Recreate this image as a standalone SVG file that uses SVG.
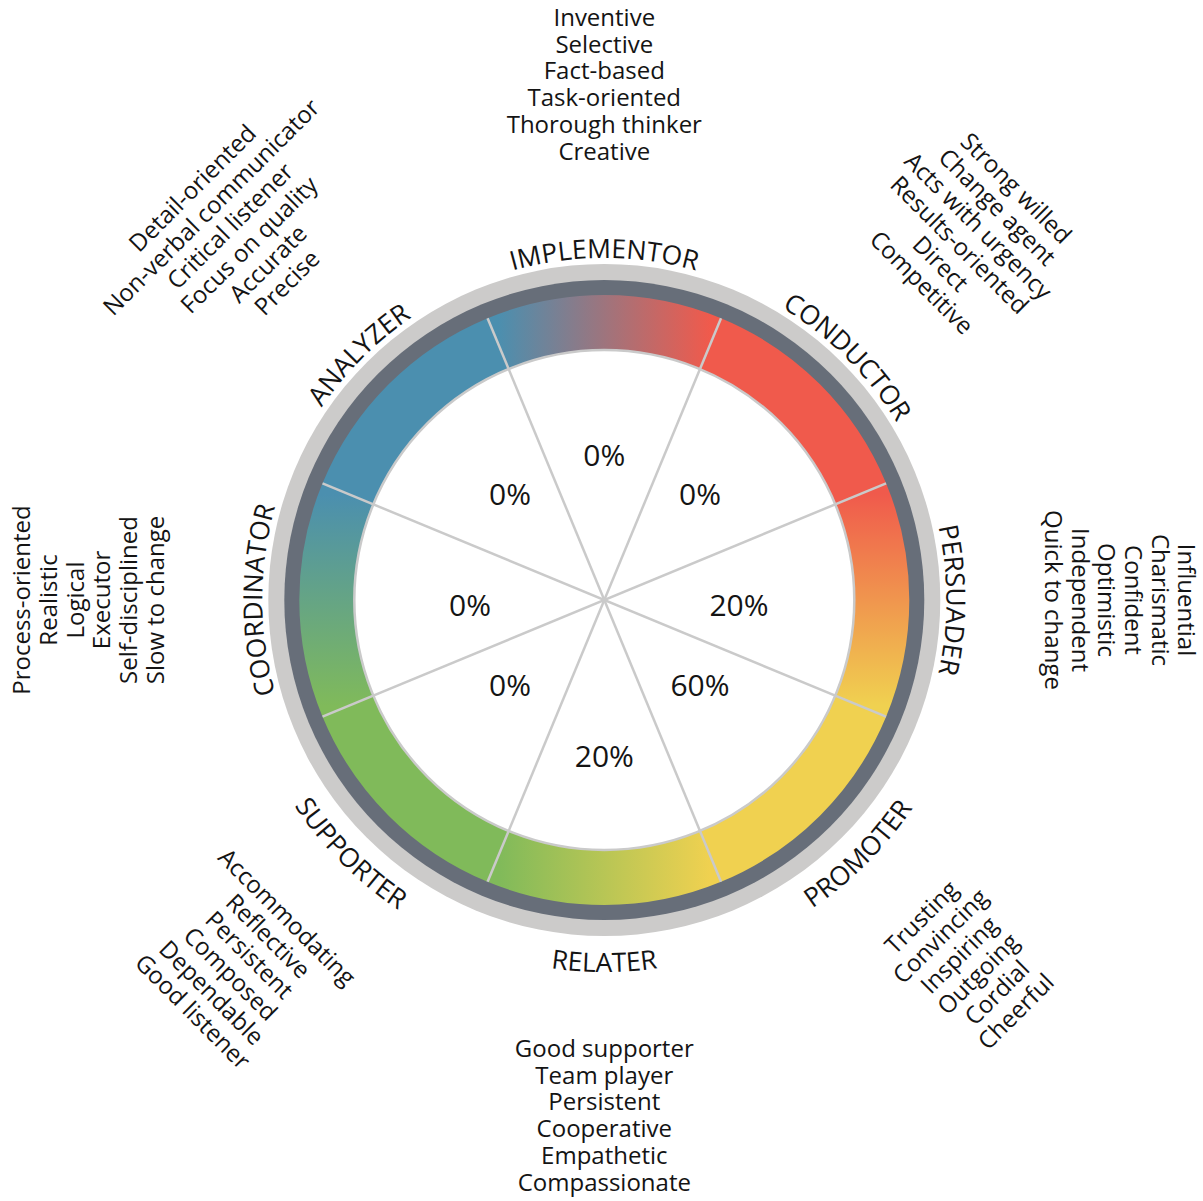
<svg xmlns="http://www.w3.org/2000/svg" xmlns:xlink="http://www.w3.org/1999/xlink" width="1203" height="1201" viewBox="0 0 1203 1201">
<style>
text{font-family:"Open Sans","Liberation Sans",sans-serif;fill:#141414;}
.lbl{font-size:26.5px;}
.tr{font-size:24px;text-anchor:middle;}
.pc{font-size:30px;text-anchor:middle;}
.div{stroke:#CACACA;stroke-width:2.5;fill:none;}
</style>
<defs>
<linearGradient id="gImp" gradientUnits="userSpaceOnUse" x1="498" y1="344" x2="710" y2="344"><stop offset="0" stop-color="#4B8FAF"/><stop offset="1" stop-color="#F05A4C"/></linearGradient>
<linearGradient id="gPer" gradientUnits="userSpaceOnUse" x1="498" y1="344" x2="710" y2="344"><stop offset="0" stop-color="#F05A4C"/><stop offset="1" stop-color="#F0D150"/></linearGradient>
<linearGradient id="gRel" gradientUnits="userSpaceOnUse" x1="498" y1="344" x2="710" y2="344"><stop offset="0" stop-color="#F0D150"/><stop offset="1" stop-color="#80BA5A"/></linearGradient>
<linearGradient id="gCoo" gradientUnits="userSpaceOnUse" x1="498" y1="344" x2="710" y2="344"><stop offset="0" stop-color="#80BA5A"/><stop offset="1" stop-color="#4B8FAF"/></linearGradient>
<path id="wedge" d="M487.58 318.22 A305 305 0 0 1 721.02 318.22 L699.97 369.03 A250 250 0 0 0 508.63 369.03 Z"/>
<path id="arcTop" d="M308.1 429 A342 342 0 0 1 900.5 429" fill="none"/>
<path id="arcBot" d="M282.1 786 A372 372 0 0 0 926.5 786" fill="none"/>
</defs>
<rect width="1203" height="1201" fill="#FFFFFF"/>
<circle cx="604.3" cy="600" r="336" fill="#CCCBCA"/>
<circle cx="604.3" cy="600" r="320" fill="#676E79"/>
<circle cx="604.3" cy="600" r="250" fill="#FFFFFF"/>

<g id="implementor">
<use xlink:href="#wedge" href="#wedge" fill="url(#gImp)"/>
<text class="lbl"><textPath xlink:href="#arcTop" href="#arcTop" startOffset="50%" text-anchor="middle">IMPLEMENTOR</textPath></text>
<text class="pc" x="604.3" y="466">0%</text>
<g class="traits">
<text class="tr" x="604.3" y="26">Inventive</text>
<text class="tr" x="604.3" y="52.7">Selective</text>
<text class="tr" x="604.3" y="79.4">Fact-based</text>
<text class="tr" x="604.3" y="106.1">Task-oriented</text>
<text class="tr" x="604.3" y="132.8">Thorough thinker</text>
<text class="tr" x="604.3" y="159.5">Creative</text>
</g>
</g>

<g id="conductor">
<use xlink:href="#wedge" href="#wedge" fill="#F05A4C" transform="rotate(45 604.3 600)"/>
<text class="lbl" transform="rotate(45 604.3 600)"><textPath xlink:href="#arcTop" href="#arcTop" startOffset="50%" text-anchor="middle">CONDUCTOR</textPath></text>
<text class="pc" x="700" y="505">0%</text>
<g class="traits" transform="rotate(45 604.3 600)">
<text class="tr" x="604.3" y="26">Strong willed</text>
<text class="tr" x="604.3" y="52.7">Change agent</text>
<text class="tr" x="604.3" y="79.4">Acts with urgency</text>
<text class="tr" x="604.3" y="106.1">Results-oriented</text>
<text class="tr" x="604.3" y="132.8">Direct</text>
<text class="tr" x="604.3" y="159.5">Competitive</text>
</g>
</g>

<g id="persuader">
<use xlink:href="#wedge" href="#wedge" fill="url(#gPer)" transform="rotate(90 604.3 600)"/>
<text class="lbl" transform="rotate(90 604.3 600)"><textPath xlink:href="#arcTop" href="#arcTop" startOffset="50%" text-anchor="middle">PERSUADER</textPath></text>
<text class="pc" x="739" y="616">20%</text>
<g class="traits" transform="rotate(90 604.3 600)">
<text class="tr" x="604.3" y="26">Influential</text>
<text class="tr" x="604.3" y="52.7">Charismatic</text>
<text class="tr" x="604.3" y="79.4">Confident</text>
<text class="tr" x="604.3" y="106.1">Optimistic</text>
<text class="tr" x="604.3" y="132.8">Independent</text>
<text class="tr" x="604.3" y="159.5">Quick to change</text>
</g>
</g>

<g id="promoter">
<use xlink:href="#wedge" href="#wedge" fill="#F0D150" transform="rotate(135 604.3 600)"/>
<text class="lbl" transform="rotate(-45 604.3 600)"><textPath xlink:href="#arcBot" href="#arcBot" startOffset="50%" text-anchor="middle">PROMOTER</textPath></text>
<text class="pc" x="700" y="696">60%</text>
<g class="traits" transform="rotate(-45 604.3 600)">
<text class="tr" x="604.3" y="1057">Trusting</text>
<text class="tr" x="604.3" y="1083.7">Convincing</text>
<text class="tr" x="604.3" y="1110.4">Inspiring</text>
<text class="tr" x="604.3" y="1137.1">Outgoing</text>
<text class="tr" x="604.3" y="1163.8">Cordial</text>
<text class="tr" x="604.3" y="1190.5">Cheerful</text>
</g>
</g>

<g id="relater">
<use xlink:href="#wedge" href="#wedge" fill="url(#gRel)" transform="rotate(180 604.3 600)"/>
<text class="lbl"><textPath xlink:href="#arcBot" href="#arcBot" startOffset="50%" text-anchor="middle">RELATER</textPath></text>
<text class="pc" x="604.3" y="767">20%</text>
<g class="traits">
<text class="tr" x="604.3" y="1057">Good supporter</text>
<text class="tr" x="604.3" y="1083.7">Team player</text>
<text class="tr" x="604.3" y="1110.4">Persistent</text>
<text class="tr" x="604.3" y="1137.1">Cooperative</text>
<text class="tr" x="604.3" y="1163.8">Empathetic</text>
<text class="tr" x="604.3" y="1190.5">Compassionate</text>
</g>
</g>

<g id="supporter">
<use xlink:href="#wedge" href="#wedge" fill="#80BA5A" transform="rotate(225 604.3 600)"/>
<text class="lbl" transform="rotate(45 604.3 600)"><textPath xlink:href="#arcBot" href="#arcBot" startOffset="50%" text-anchor="middle">SUPPORTER</textPath></text>
<text class="pc" x="510" y="696">0%</text>
<g class="traits" transform="rotate(45 604.3 600)">
<text class="tr" x="604.3" y="1057">Accommodating</text>
<text class="tr" x="604.3" y="1083.7">Reflective</text>
<text class="tr" x="604.3" y="1110.4">Persistent</text>
<text class="tr" x="604.3" y="1137.1">Composed</text>
<text class="tr" x="604.3" y="1163.8">Dependable</text>
<text class="tr" x="604.3" y="1190.5">Good listener</text>
</g>
</g>

<g id="coordinator">
<use xlink:href="#wedge" href="#wedge" fill="url(#gCoo)" transform="rotate(270 604.3 600)"/>
<text class="lbl" transform="rotate(-90 604.3 600)"><textPath xlink:href="#arcTop" href="#arcTop" startOffset="50%" text-anchor="middle">COORDINATOR</textPath></text>
<text class="pc" x="470" y="616">0%</text>
<g class="traits" transform="rotate(-90 604.3 600)">
<text class="tr" x="604.3" y="26">Process-oriented</text>
<text class="tr" x="604.3" y="52.7">Realistic</text>
<text class="tr" x="604.3" y="79.4">Logical</text>
<text class="tr" x="604.3" y="106.1">Executor</text>
<text class="tr" x="604.3" y="132.8">Self-disciplined</text>
<text class="tr" x="604.3" y="159.5">Slow to change</text>
</g>
</g>

<g id="analyzer">
<use xlink:href="#wedge" href="#wedge" fill="#4B8FAF" transform="rotate(315 604.3 600)"/>
<text class="lbl" transform="rotate(-45 604.3 600)"><textPath xlink:href="#arcTop" href="#arcTop" startOffset="50%" text-anchor="middle">ANALYZER</textPath></text>
<text class="pc" x="510" y="505">0%</text>
<g class="traits" transform="rotate(-45 604.3 600)">
<text class="tr" x="604.3" y="26">Detail-oriented</text>
<text class="tr" x="604.3" y="52.7">Non-verbal communicator</text>
<text class="tr" x="604.3" y="79.4">Critical listener</text>
<text class="tr" x="604.3" y="106.1">Focus on quality</text>
<text class="tr" x="604.3" y="132.8">Accurate</text>
<text class="tr" x="604.3" y="159.5">Precise</text>
</g>
</g>

<circle cx="604.3" cy="600" r="250" fill="none" stroke="#CACACA" stroke-width="2.5"/>
<g id="connectors">
<line class="div" x1="721.02" y1="318.22" x2="487.58" y2="881.78"/>
<line class="div" x1="886.08" y1="483.28" x2="322.52" y2="716.72"/>
<line class="div" x1="886.08" y1="716.72" x2="322.52" y2="483.28"/>
<line class="div" x1="721.02" y1="881.78" x2="487.58" y2="318.22"/>
</g>
</svg>
